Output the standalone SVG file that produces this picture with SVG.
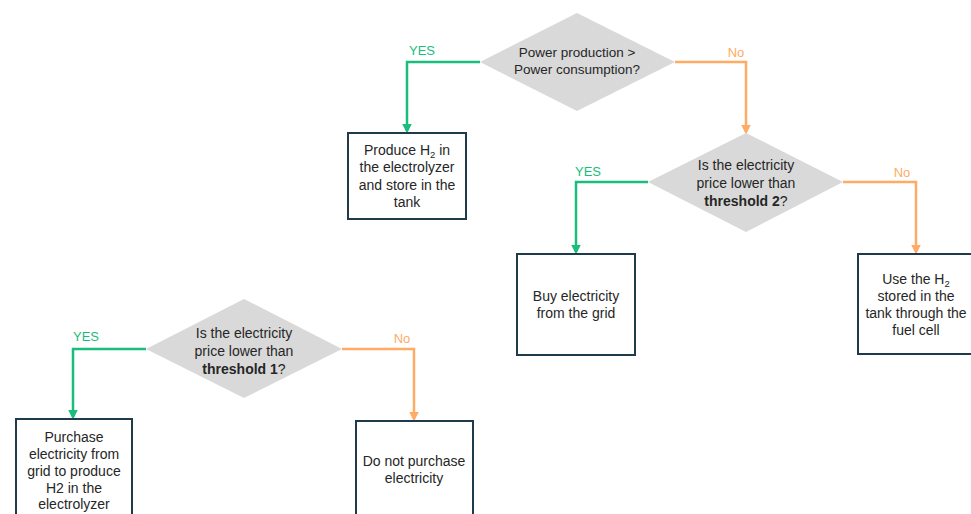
<svg xmlns="http://www.w3.org/2000/svg" width="971" height="514" viewBox="0 0 971 514">
<style>
.dia{fill:#d9d9d9;stroke:none}
.box{fill:#ffffff;stroke:#1f3a4a;stroke-width:2}
.t{font-family:"Liberation Sans",Arial,sans-serif;font-size:14px;fill:#262626;text-anchor:middle}
.s{font-size:13.5px}
.b{font-weight:bold}
.yes{fill:none;stroke:#19bd7c;stroke-width:2.5}
.no{fill:none;stroke:#ffab66;stroke-width:2.5}
.ly{font-family:"Liberation Sans",Arial,sans-serif;font-size:13px;fill:#19bd7c;text-anchor:middle}
.ln{font-family:"Liberation Sans",Arial,sans-serif;font-size:13px;fill:#ffab66;text-anchor:middle}
</style>
<defs>
<marker id="ag" markerWidth="4" markerHeight="4" refX="3" refY="2" orient="auto" markerUnits="strokeWidth"><path d="M0,0 L4,2 L0,4 Z" fill="#19bd7c"/></marker>
<marker id="ao" markerWidth="4" markerHeight="4" refX="3" refY="2" orient="auto" markerUnits="strokeWidth"><path d="M0,0 L4,2 L0,4 Z" fill="#ffab66"/></marker>
</defs>
<rect width="971" height="514" fill="#ffffff"/>
<g id="connectors">
<polyline class="yes" points="480,62 407,62 407,131" marker-end="url(#ag)"/>
<polyline class="no" points="675,62 746,62 746,132" marker-end="url(#ao)"/>
<polyline class="yes" points="648,182 576,182 576,252" marker-end="url(#ag)"/>
<polyline class="no" points="843,182 916,182 916,252" marker-end="url(#ao)"/>
<polyline class="yes" points="146,349 73,349 73,417" marker-end="url(#ag)"/>
<polyline class="no" points="342,349 414,349 414,419" marker-end="url(#ao)"/>
<text class="ly" x="422" y="55">YES</text>
<text class="ln" x="736" y="57">No</text>
<text class="ly" x="588" y="176">YES</text>
<text class="ln" x="902" y="177">No</text>
<text class="ly" x="86" y="341">YES</text>
<text class="ln" x="402" y="343">No</text>
</g>
<g id="d1">
<polygon class="dia" points="577,13 675,62 577,111 480,62"/>
<text class="t s" x="577" y="57">Power production &gt;</text>
<text class="t s" x="577" y="74">Power consumption?</text>
</g>
<g id="b1">
<rect class="box" x="348" y="133" width="118" height="86"/>
<text class="t" x="407" y="155">Produce H<tspan font-size="9.5" dy="3">2</tspan><tspan dy="-3"> in</tspan></text>
<text class="t" x="407" y="172">the electrolyzer</text>
<text class="t" x="407" y="190">and store in the</text>
<text class="t" x="407" y="207">tank</text>
</g>
<g id="d2">
<polygon class="dia" points="746,133 843,182 746,232 648,182"/>
<text class="t" x="746" y="170">Is the electricity</text>
<text class="t" x="746" y="188">price lower than</text>
<text class="t" x="746" y="206"><tspan class="b">threshold 2</tspan>?</text>
</g>
<g id="b2">
<rect class="box" x="517" y="254" width="118" height="101"/>
<text class="t" x="576" y="301">Buy electricity</text>
<text class="t" x="576" y="318">from the grid</text>
</g>
<g id="b3">
<rect class="box" x="858" y="254" width="120" height="100"/>
<text class="t" x="916" y="284">Use the H<tspan font-size="9.5" dy="3">2</tspan></text>
<text class="t" x="916" y="301">stored in the</text>
<text class="t" x="916" y="318">tank through the</text>
<text class="t" x="916" y="335">fuel cell</text>
</g>
<g id="d3">
<polygon class="dia" points="244,299 342,349 244,398 146,349"/>
<text class="t" x="244" y="338">Is the electricity</text>
<text class="t" x="244" y="356">price lower than</text>
<text class="t" x="244" y="374"><tspan class="b">threshold 1</tspan>?</text>
</g>
<g id="b4">
<rect class="box" x="16" y="419" width="116" height="100"/>
<text class="t" x="74" y="442">Purchase</text>
<text class="t" x="74" y="459">electricity from</text>
<text class="t" x="74" y="476">grid to produce</text>
<text class="t" x="74" y="493">H2 in the</text>
<text class="t" x="74" y="509">electrolyzer</text>
</g>
<g id="b5">
<rect class="box" x="356" y="421" width="117" height="100"/>
<text class="t" x="414" y="466">Do not purchase</text>
<text class="t" x="414" y="483">electricity</text>
</g>
</svg>
